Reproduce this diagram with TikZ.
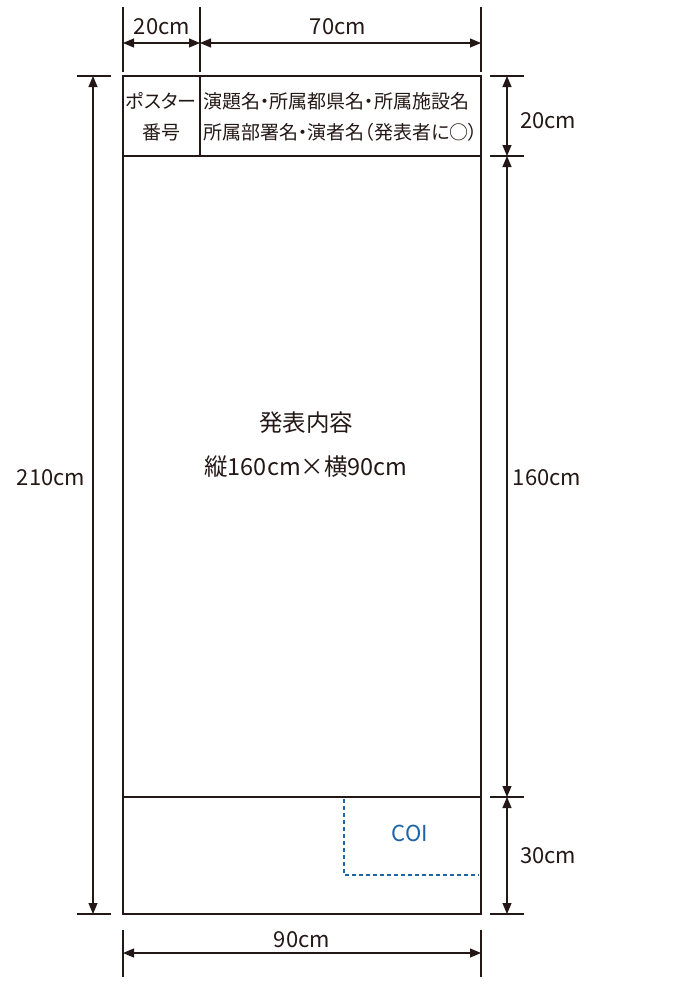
\documentclass[tikz,border=0pt]{standalone}
\usepackage{fontspec}
\setmainfont{Noto Sans CJK JP}
\newfontfamily\jpprop[RawFeature=+palt]{Noto Sans CJK JP}
\usetikzlibrary{arrows.meta}
\definecolor{ink}{HTML}{231815}
\definecolor{coiblue}{HTML}{1F64A3}
\begin{document}
\begin{tikzpicture}[x=1pt,y=-1pt,
  frame/.style={draw=ink,line width=1.4pt},
  ext/.style={draw=ink,line width=1.1pt},
  dim/.style={draw=ink,line width=1.1pt,{Triangle[length=11pt,width=9pt]}-{Triangle[length=11pt,width=9pt]}},
  lbl/.style={font=\fontsize{22}{26}\selectfont,text=ink,inner sep=0pt},
  jp/.style={font=\jpprop\fontsize{19}{31}\selectfont,text=ink,inner sep=0pt},
  big/.style={font=\fontsize{23.5}{28}\selectfont,text=ink,inner sep=0pt},
  coi/.style={draw=coiblue,line width=1.1pt,dash pattern=on 4pt off 3pt}]
\useasboundingbox (0,0) rectangle (700,993);
% poster frame
\coordinate (TL) at (123,76);
\coordinate (TR) at (481,76);
\coordinate (BL) at (123,914);
\coordinate (BR) at (481,914);
\coordinate (HL) at (123,156);
\coordinate (HR) at (481,156);
\coordinate (DT) at (200,76);
\coordinate (DB) at (200,156);
\coordinate (FL) at (123,797);
\coordinate (FR) at (481,797);
\draw[frame] (TL) rectangle (BR);
\draw[frame] (HL) -- (HR);
\draw[frame] (DT) -- (DB);
\draw[frame] (FL) -- (FR);
% COI box
\coordinate (C1) at (344,799);
\coordinate (C2) at (344,875);
\coordinate (C3) at (479,875);
\draw[coi] (C1) -- (C2) -- (C3);
\node[font=\fontsize{22}{26}\selectfont,text=coiblue,inner sep=0pt] (coi) at (410,833) {COI};
% header texts
\node[jp,align=center] (num) at (161,117) {ポスター\\番号};
\node[jp,align=left,anchor=west] (title) at (203,117) {演題名・所属都県名・所属施設名\\所属部署名・演者名（発表者に○）};
% centre texts
\node[big] (cont) at (306,423) {発表内容};
\node[big] (size) at (306,467) {縦160cm×横90cm};
% top dimensions
\coordinate (t1a) at (123,7); \coordinate (t1b) at (123,72);
\coordinate (t2a) at (200,7); \coordinate (t2b) at (200,72);
\coordinate (t3a) at (481,7); \coordinate (t3b) at (481,72);
\draw[ext] (t1a) -- (t1b);
\draw[ext] (t2a) -- (t2b);
\draw[ext] (t3a) -- (t3b);
\coordinate (a1) at (123,43); \coordinate (a2) at (200,43); \coordinate (a3) at (481,43);
\draw[dim] (a1) -- (a2);
\draw[dim] (a2) -- (a3);
\node[lbl] (d20a) at (162,27) {20cm};
\node[lbl] (d70) at (338,27) {70cm};
% left dimension
\coordinate (l1a) at (77,76); \coordinate (l1b) at (111,76);
\coordinate (l2a) at (77,914); \coordinate (l2b) at (111,914);
\draw[ext] (l1a) -- (l1b);
\draw[ext] (l2a) -- (l2b);
\coordinate (la) at (93,76); \coordinate (lb) at (93,914);
\draw[dim] (la) -- (lb);
\node[lbl] (d210) at (51,478) {210cm};
% right dimensions
\coordinate (r1a) at (490,76); \coordinate (r1b) at (524,76);
\coordinate (r2a) at (490,156); \coordinate (r2b) at (524,156);
\coordinate (r3a) at (490,797); \coordinate (r3b) at (524,797);
\coordinate (r4a) at (490,914); \coordinate (r4b) at (524,914);
\draw[ext] (r1a) -- (r1b);
\draw[ext] (r2a) -- (r2b);
\draw[ext] (r3a) -- (r3b);
\draw[ext] (r4a) -- (r4b);
\coordinate (ra) at (507,76); \coordinate (rb) at (507,156);
\coordinate (rc) at (507,797); \coordinate (rd) at (507,914);
\draw[dim] (ra) -- (rb);
\draw[dim] (rb) -- (rc);
\draw[dim] (rc) -- (rd);
\node[lbl] (d20b) at (548,121) {20cm};
\node[lbl] (d160) at (547,478) {160cm};
\node[lbl] (d30) at (548,856) {30cm};
% bottom dimension
\coordinate (b1a) at (123,930); \coordinate (b1b) at (123,977);
\coordinate (b2a) at (481,930); \coordinate (b2b) at (481,977);
\draw[ext] (b1a) -- (b1b);
\draw[ext] (b2a) -- (b2b);
\coordinate (ba) at (123,953); \coordinate (bb) at (481,953);
\draw[dim] (ba) -- (bb);
\node[lbl] (d90) at (302,940) {90cm};
\end{tikzpicture}
\end{document}
